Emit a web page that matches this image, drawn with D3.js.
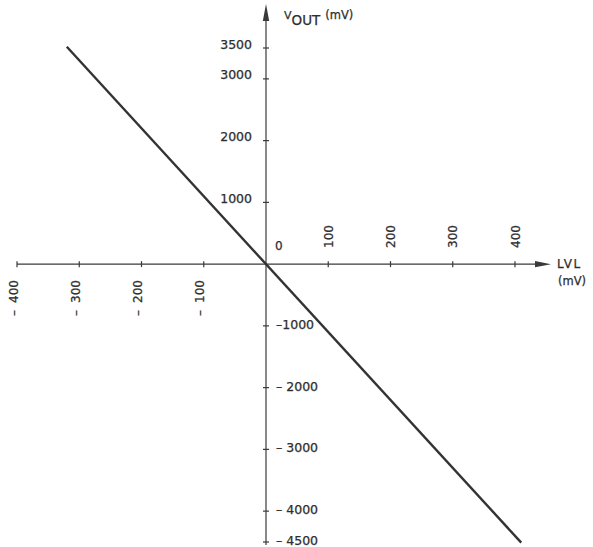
<!DOCTYPE html>
<html>
<head>
<meta charset="utf-8">
<script src="https://cdn.jsdelivr.net/npm/d3@7"></script>
<style>
  html, body { margin: 0; padding: 0; background: #fff; }
  svg { display: block; }
  text { font-family: "DejaVu Sans", sans-serif; fill: #2e2e2e; stroke: #2e2e2e; stroke-width: 0.25px; }
</style>
</head>
<body>
<div id="chart"></div>
<script>
// ---- data ----
const lvl = [-320, 410];          // LVL (mV)
const vout = [3520, -4510];       // VOUT (mV)
const xTicksNeg = [-400, -300, -200, -100];
const xTicksPos = [100, 200, 300, 400];
const xLabelsNeg = ["400", "300", "200", "100"];
const xLabelsPos = ["100", "200", "300", "400"];
const yTicksPos = [1000, 2000, 3000, 3500];
const yTicksNeg = [-1000, -2000, -3000, -4000, -4500];
const yLabelsPos = ["1000", "2000", "3000", "3500"];
const yLabelsNeg = ["\u20131000", "\u2013 2000", "\u2013 3000", "\u2013 4000", "\u2013 4500"];

const W = 593, H = 547;
const svg = d3.select("#chart").append("svg").attr("width", W).attr("height", H);

const x = d3.scaleLinear().domain([-400, 400]).range([17, 515]);
const y = d3.scaleLinear().domain([3500, -4500]).range([48, 542]);
const x0 = x(0), y0 = y(0);
const axisColor = "#3a3a3a";

// x axis line + arrow
svg.append("line").attr("x1", x(-400)).attr("x2", 540).attr("y1", y0).attr("y2", y0)
  .attr("stroke", axisColor).attr("stroke-width", 1.2);
svg.append("path").attr("d", `M${535},${y0-3.2} L${551},${y0} L${535},${y0+3.2} Z`).attr("fill", axisColor);

// y axis line + arrow
svg.append("line").attr("x1", x0).attr("x2", x0).attr("y1", 545).attr("y2", 14)
  .attr("stroke", axisColor).attr("stroke-width", 1.2);
svg.append("path").attr("d", `M${x0-3.2},${21} L${x0},${4} L${x0+3.2},${21} Z`).attr("fill", axisColor);

// x ticks
svg.selectAll(".xt").data(xTicksNeg.concat(xTicksPos)).enter().append("line")
  .attr("x1", d => x(d)).attr("x2", d => x(d)).attr("y1", y0 - 3).attr("y2", y0 + 3)
  .attr("stroke", axisColor).attr("stroke-width", 1.2);
// y ticks
svg.selectAll(".yt").data(yTicksPos.concat(yTicksNeg)).enter().append("line")
  .attr("x1", x0 - 3).attr("x2", x0 + 3).attr("y1", d => y(d)).attr("y2", d => y(d))
  .attr("stroke", axisColor).attr("stroke-width", 1.2);

// x labels (rotated)
svg.selectAll(".xlp").data(xTicksPos).enter().append("text")
  .attr("transform", d => `translate(${x(d) + 4.5},${248}) rotate(-90)`)
  .attr("font-size", 12).attr("text-anchor", "start")
  .text((d, i) => xLabelsPos[i]);
const neg = svg.selectAll(".xln").data(xTicksNeg).enter().append("text")
  .attr("transform", d => `translate(${x(d) + 0.5},${316}) rotate(-90)`)
  .attr("font-size", 12).attr("text-anchor", "start");
neg.append("tspan").text("\u2013");
neg.append("tspan").attr("dx", 7).text((d, i) => xLabelsNeg[i]);

// y labels
svg.selectAll(".ylp").data(yTicksPos).enter().append("text")
  .attr("x", 252).attr("y", d => y(d) + 0.5)
  .attr("font-size", 12.5).attr("text-anchor", "end")
  .text((d, i) => yLabelsPos[i]);
svg.selectAll(".yln").data(yTicksNeg).enter().append("text")
  .attr("x", 276).attr("y", d => y(d) + 3)
  .attr("font-size", 12.5).attr("text-anchor", "start")
  .text((d, i) => yLabelsNeg[i]);

// zero label
svg.append("text").attr("x", 275).attr("y", 250).attr("font-size", 12).text("0");

// axis titles
const vt = svg.append("text").attr("x", 284).attr("y", 19);
vt.append("tspan").attr("font-size", 11).text("V");
vt.append("tspan").attr("font-size", 13.5).attr("dy", 6).text("OUT");
vt.append("tspan").attr("font-size", 11.5).attr("dy", -6).attr("dx", 5).text("(mV)");

svg.append("text").attr("x", 557).attr("y", 268).attr("font-size", 12)
  .attr("letter-spacing", 1.5).text("LVL");
svg.append("text").attr("x", 558).attr("y", 285).attr("font-size", 11.5).text("(mV)");

// transfer line
const pts = lvl.map((v, i) => [v, vout[i]]);
svg.append("path").datum(pts)
  .attr("d", d3.line().x(d => x(d[0])).y(d => y(d[1])))
  .attr("fill", "none").attr("stroke", "#333").attr("stroke-width", 2.4);
</script>
</body>
</html>
